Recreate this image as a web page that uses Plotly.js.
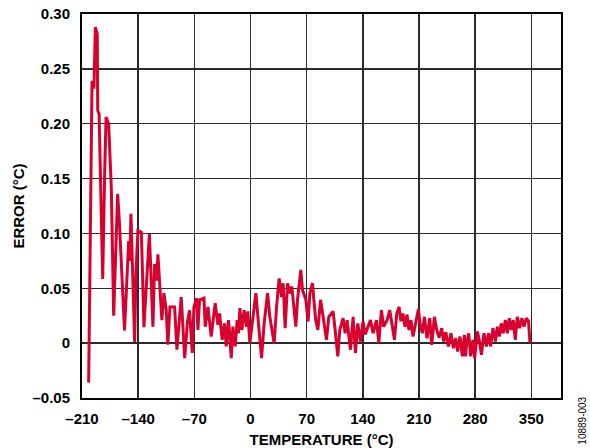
<!DOCTYPE html>
<html>
<head>
<meta charset="utf-8">
<script src="https://cdn.plot.ly/plotly-3.0.1.min.js"></script>
<style>html,body{margin:0;padding:0;background:#fff;}#chart{width:590px;height:448px;}</style>
</head>
<body>
<div id="chart"></div>
<script>
var temperature = [
-201.7,-198.4,-197.5,-195.1,-193.4,-191.0,-190.4,-188.7,-184.2,-181.7,-180.0,-176.8,-173.5,-170.5,-168.5,-165.6,-163.5,-157.0,-151.8,-150.5,-149.0,-144.4,-142.8,-140.3,-136.0,-132.8,-126.0,-123.7,-121.6,-119.5,-117.0,-115.4,
-113.3,-110.4,-107.9,-105.0,-103.0,-100.4,-94.6,-91.7,-86.3,-82.0,-78.5,-75.9,-72.6,-70.5,-67.2,-65.5,-63.5,-58.0,-56.4,-53.0,-49.0,-44.0,-40.6,-38.5,-35.3,-32.3,-30.3,-27.3,-24.0,-22.0,-19.1,-16.6,-14.9,-13.2,-10.7,-7.9,-4.9,-3.3,-0.8,
2.6,6.7,9.6,13.8,17.0,21.3,24.1,26.6,29.5,32.5,35.7,38.7,40.7,43.2,46.2,49.0,51.5,56.5,58.6,62.7,64.8,69.0,71.8,74.0,77.3,79.0,81.4,84.0,87.3,91.4,94.7,97.6,103.0,105.9,108.8,111.3,115.4,118.0,120.4,124.6,127.9,130.8,133.7,137.0,140.3,143.0,146.2,149.5,152.8,157.0,159.9,163.2,166.0,170.2,173.6,176.9,
179.4,182.3,185.2,187.5,190.0,192.6,195.1,197.5,200.0,202.6,206.0,209.3,211.3,214.2,216.8,220.0,223.4,225.9,229.2,232.1,235.0,238.3,240.8,243.5,246.6,249.9,252.8,255.8,258.2,261.1,264.1,266.6,268.2,269.0,272.0,274.4,277.3,279.4,282.8,285.0,287.8,291.0,294.0,296.8,299.3,
302.2,305.2,307.7,310.2,312.5,315.0,317.6,320.1,322.6,325.0,327.5,330.0,332.5,335.4,338.3,340.8,343.8,346.5,348.3
];
var errorC = [
-0.036,0.230,0.239,0.232,0.288,0.282,0.212,0.209,0.0585,0.157,0.206,0.200,0.142,0.025,0.066,0.136,0.112,0.0115,0.093,0.075,0.118,0.001,0.063,0.1025,0.101,0.0146,0.0995,0.063,0.015,0.072,0.057,0.081,
0.058,0.021,0.0455,0.030,-0.0015,0.033,0.033,-0.006,0.042,-0.0137,0.020,0.030,-0.009,0.033,0.041,0.012,0.0395,0.041,0.015,0.033,0.006,0.0364,0.0167,0.027,0.003,0.018,-0.003,0.021,-0.0137,0.015,-0.003,0.021,0.009,0.032,0.012,0.030,0.015,0.029,0.000,
0.021,0.0455,0.021,-0.0137,0.018,0.0455,0.024,0.012,0.000,0.033,0.059,0.042,0.0546,0.0137,0.0546,0.0455,0.0516,0.015,0.0395,0.0668,0.0486,0.0395,0.0197,0.0455,0.0546,0.039,0.0206,0.012,0.0395,0.0197,0.003,0.024,0.029,0.009,-0.012,0.012,0.0228,0.009,0.021,-0.006,0.024,-0.009,0.018,0.0015,0.0197,0.008,0.015,0.021,0.009,0.021,0.000,0.030,0.015,0.021,0.030,0.012,
0.003,0.027,0.033,0.020,0.027,0.015,0.026,0.012,0.021,0.006,0.020,0.031,0.018,0.009,0.024,0.0045,0.0228,-0.0015,0.024,0.012,0.005,0.0137,0.0015,0.010,-0.003,0.009,-0.0046,0.0046,-0.0076,0.006,-0.012,0.0076,-0.012,-0.003,0.009,-0.012,0.003,-0.0137,0.0106,0.003,-0.0107,0.009,-0.003,0.009,-0.003,
0.0137,0.0015,0.015,0.006,0.018,0.009,0.021,0.009,0.0228,0.012,0.021,0.003,0.024,0.0137,0.0228,0.015,0.0228,0.020,0.000
];
var xTickVals = [-210,-140,-70,0,70,140,210,280,350];
var xTickText = ['\u2013210','\u2013140','\u201370','0','70','140','210','280','350'];
var yTickVals = [-0.05,0,0.05,0.10,0.15,0.20,0.25,0.30];
var yTickText = ['\u20130.05','0','0.05','0.10','0.15','0.20','0.25','0.30'];

var fontFam = 'Arial, "Liberation Sans", Helvetica, sans-serif';
var trace = {
  x: temperature, y: errorC, type: 'scatter', mode: 'lines',
  line: {color: '#d8002f', width: 3, shape: 'linear'},
  hoverinfo: 'skip'
};
var layout = {
  width: 590, height: 448,
  margin: {l: 82, r: 29, t: 14, b: 50, pad: 0},
  paper_bgcolor: '#fff', plot_bgcolor: '#fff',
  showlegend: false,
  font: {family: fontFam, color: '#000', size: 15, weight: 'bold'},
  xaxis: {
    range: [-210, 387], tickmode: 'array', tickvals: xTickVals, ticktext: xTickText,
    showgrid: true, gridcolor: '#2a2a2a', gridwidth: 1.5, zeroline: false,
    showline: true, linecolor: '#000', linewidth: 2, mirror: true,
    ticks: '', ticklabelstandoff: 6,
    tickfont: {family: fontFam, size: 15, color: '#000', weight: 'bold'},
    title: {text: 'TEMPERATURE (°C)', font: {family: fontFam, size: 15, color: '#000', weight: 'bold'}, standoff: 8}
  },
  yaxis: {
    range: [-0.05, 0.30], tickmode: 'array', tickvals: yTickVals, ticktext: yTickText,
    showgrid: true, gridcolor: '#2a2a2a', gridwidth: 1.5, zeroline: false,
    showline: true, linecolor: '#000', linewidth: 2, mirror: true,
    ticks: '', ticklabelstandoff: 7,
    tickfont: {family: fontFam, size: 15, color: '#000', weight: 'bold'},
    title: {text: 'ERROR (°C)', font: {family: fontFam, size: 15, color: '#000', weight: 'bold'}, standoff: 4}
  },
  annotations: [{
    text: '10889-003', xref: 'paper', yref: 'paper', x: 1.043, y: -0.06,
    xanchor: 'center', yanchor: 'middle', textangle: -90, showarrow: false,
    font: {family: fontFam, size: 10, color: '#000', weight: 'normal'}
  }]
};
Plotly.newPlot('chart', [trace], layout, {displayModeBar: false, staticPlot: true});
</script>
</body>
</html>
